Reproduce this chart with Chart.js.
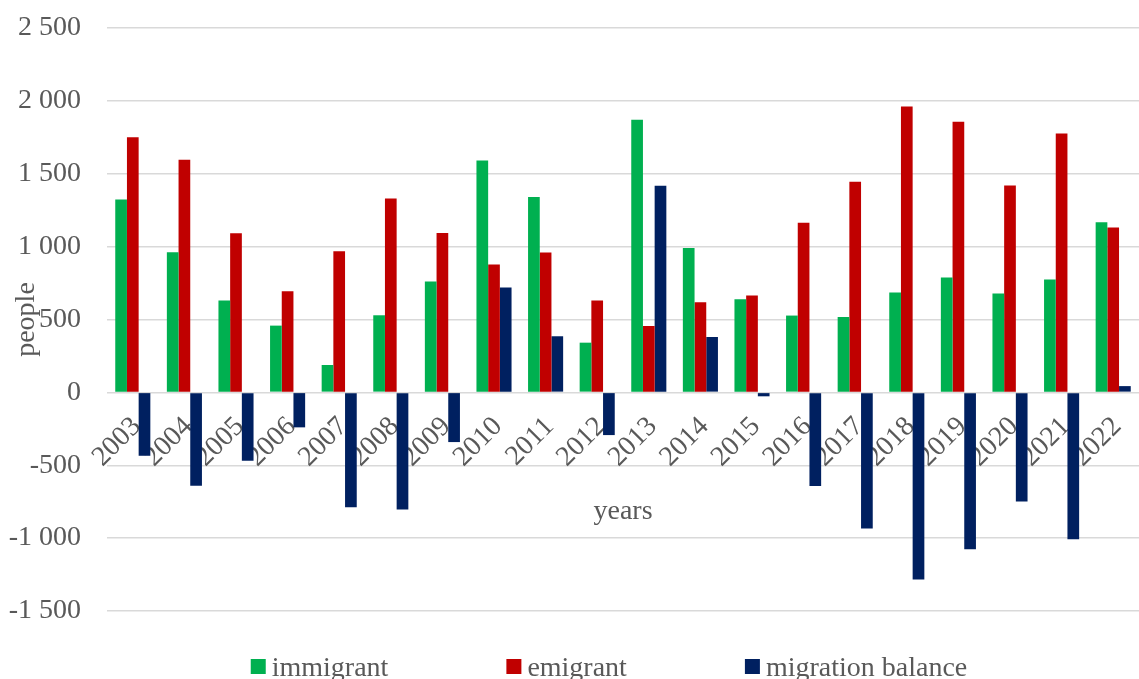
<!DOCTYPE html>
<html>
<head>
<meta charset="utf-8">
<script src="https://cdn.jsdelivr.net/npm/chart.js@4/dist/chart.umd.min.js"></script>
<style>
  html, body { margin: 0; padding: 0; background: #ffffff; }
  #wrap { position: relative; width: 1139px; height: 679px; }
</style>
</head>
<body>
<div id="wrap"><canvas id="c" width="1139" height="679"></canvas></div>
<script>
const years = ['2003','2004','2005','2006','2007','2008','2009','2010','2011','2012','2013','2014','2015','2016','2017','2018','2019','2020','2021','2022'];
const immigrant = [1323, 961, 630, 458, 188, 529, 760, 1591, 1341, 341, 1870, 991, 639, 527, 517, 685, 788, 678, 774, 1168];
const emigrant = [1751, 1596, 1092, 694, 968, 1330, 1094, 877, 959, 630, 456, 618, 664, 1163, 1445, 1962, 1857, 1419, 1777, 1131];
const balance = [-435, -641, -469, -240, -788, -804, -341, 719, 385, -293, 1417, 380, -27, -643, -934, -1284, -1076, -749, -1007, 43];
const seriesNames = ['immigrant', 'emigrant', 'migration balance'];
const yTicks = [-1500, -1000, -500, 0, 500, 1000, 1500, 2000, 2500];
const xTitle = 'years';
const yTitle = 'people';

const FONT = "'Liberation Serif', 'Times New Roman', serif";
const FS = 28;
const TXT = '#595959';
const COLORS = ['#00B050', '#C00000', '#002060'];

function fmt(v) {
  const neg = v < 0;
  const s = String(Math.abs(v)).replace(/\B(?=(\d{3})+(?!\d))/g, ' ');
  return (neg ? '-' : '') + s;
}

const legendPlugin = {
  id: 'customLegend',
  afterDraw(chart) {
    const ctx = chart.ctx;
    ctx.save();
    ctx.font = FS + 'px ' + FONT;
    const box = 15, gapBox = 6, gapItem = 118;
    const items = chart.data.datasets.map(d => ({ text: d.label, color: d.backgroundColor, w: ctx.measureText(d.label).width }));
    let total = 0;
    items.forEach((it, i) => { total += box + gapBox + it.w + (i ? gapItem : 0); });
    let x = 609 - total / 2;
    const baseY = 676;
    items.forEach(it => {
      ctx.fillStyle = it.color;
      ctx.fillRect(x, 659, box, box);
      x += box + gapBox;
      ctx.fillStyle = TXT;
      ctx.textBaseline = 'alphabetic';
      ctx.textAlign = 'left';
      ctx.fillText(it.text, x, baseY);
      x += it.w + gapItem;
    });
    ctx.restore();
  }
};

new Chart(document.getElementById('c'), {
  type: 'bar',
  data: {
    labels: years,
    datasets: [
      { label: seriesNames[0], data: immigrant, backgroundColor: COLORS[0] },
      { label: seriesNames[1], data: emigrant, backgroundColor: COLORS[1] },
      { label: seriesNames[2], data: balance, backgroundColor: COLORS[2] }
    ]
  },
  options: {
    responsive: false,
    animation: false,
    datasets: { bar: { barPercentage: 1.0, categoryPercentage: 0.68, borderWidth: 0 } },
    layout: { padding: { top: 28, bottom: 68, left: 0, right: 0 } },
    plugins: {
      legend: { display: false },
      tooltip: { enabled: false }
    },
    scales: {
      x: {
        position: { y: 0 },
        z: 1,
        grid: { display: false, drawTicks: true, tickLength: 18 },
        border: { display: false },
        ticks: {
          autoSkip: false,
          minRotation: 45,
          maxRotation: 45,
          padding: 0,
          labelOffset: 4,
          color: TXT,
          font: { family: FONT, size: FS }
        },
        title: {
          display: true,
          text: xTitle,
          color: TXT,
          font: { family: FONT, size: FS },
          padding: { top: 0, bottom: -136 }
        },
        afterFit: (s) => { s.height = 0; }
      },
      y: {
        min: -1500,
        max: 2500,
        afterBuildTicks: (s) => { s.ticks = yTicks.map(v => ({ value: v })); },
        grid: { color: '#D9D9D9', lineWidth: 1.5, drawTicks: true, tickLength: 23, tickColor: 'rgba(0,0,0,0)' },
        border: { display: false },
        ticks: {
          padding: 3,
          color: TXT,
          font: { family: FONT, size: FS },
          callback: (v) => fmt(v)
        },
        title: {
          display: true,
          text: yTitle,
          color: TXT,
          font: { family: FONT, size: FS },
          padding: { top: 10, bottom: 0 }
        },
        afterFit: (s) => { s.width = 107; }
      }
    }
  },
  plugins: [legendPlugin]
});
</script>
</body>
</html>
